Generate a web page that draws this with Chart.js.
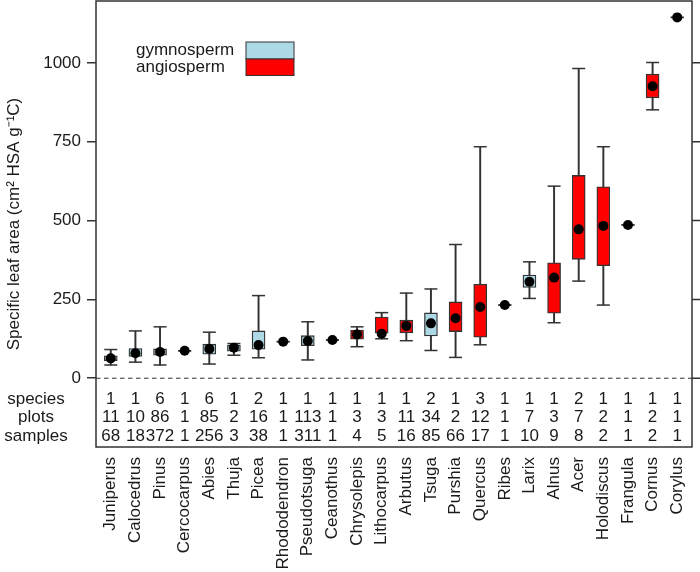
<!DOCTYPE html>
<html>
<head>
<meta charset="utf-8">
<script src="https://cdn.jsdelivr.net/npm/chart.js@4.4.1/dist/chart.umd.min.js"></script>
<style>
  html, body { margin: 0; padding: 0; background: #fff; }
  #wrap { width: 700px; height: 572px; }
</style>
</head>
<body>
<div id="wrap"><canvas id="slaChart"></canvas></div>
<script>
// genera, ordered by mean SLA
const genera = ['Juniperus', 'Calocedrus', 'Pinus', 'Cercocarpus', 'Abies', 'Thuja', 'Picea',
    'Rhododendron', 'Pseudotsuga', 'Ceanothus', 'Chrysolepis', 'Lithocarpus', 'Arbutus', 'Tsuga',
    'Purshia', 'Quercus', 'Ribes', 'Larix', 'Alnus', 'Acer', 'Holodiscus', 'Frangula', 'Cornus', 'Corylus'];
const groups = ['gymnosperm', 'gymnosperm', 'gymnosperm', 'angiosperm', 'gymnosperm', 'gymnosperm', 'gymnosperm',
    'angiosperm', 'gymnosperm', 'angiosperm', 'angiosperm', 'angiosperm', 'angiosperm', 'gymnosperm',
    'angiosperm', 'angiosperm', 'angiosperm', 'gymnosperm', 'angiosperm', 'angiosperm', 'angiosperm', 'angiosperm', 'angiosperm', 'angiosperm'];

// box plot values (cm2 HSA g-1 C)
const whiskerLow  = [42, 51, 42, 87, 45, 73, 65, 116, 58, 121, 100, 125, 119, 88, 66, 106, 232, 253, 176, 308, 232, 486, 851, 1144];
const boxLow      = [56, 69, 73, 87, 76, 86, 92, 116, 103, 121, 124, 143, 144, 134, 148, 130, 232, 288, 206, 377, 357, 486, 889, 1144];
const centre      = [63, 79, 83, 87, 93, 97, 105, 116, 118, 121, 139, 141, 166, 174, 190, 226, 232, 306, 319, 472, 483, 486, 926, 1144];
const boxHigh     = [71, 94, 93, 87, 108, 105, 150, 116, 135, 121, 153, 194, 184, 207, 242, 298, 232, 327, 366, 643, 607, 486, 964, 1144];
const whiskerHigh = [91, 150, 163, 87, 146, 110, 262, 116, 179, 121, 163, 208, 270, 283, 424, 734, 232, 369, 609, 982, 734, 486, 1001, 1144];

// counts table under the zero line
const speciesN = [1, 1, 6, 1, 6, 1, 2, 1, 1, 1, 1, 1, 1, 2, 1, 3, 1, 1, 1, 2, 1, 1, 1, 1];
const plotsN   = [11, 10, 86, 1, 85, 2, 16, 1, 113, 1, 3, 3, 11, 34, 2, 12, 1, 7, 3, 7, 2, 1, 2, 1];
const samplesN = [68, 18, 372, 1, 256, 3, 38, 1, 311, 1, 4, 5, 16, 85, 66, 17, 1, 10, 9, 8, 2, 1, 2, 1];

const yTicks = [0, 250, 500, 750, 1000];

const FONT = "'Liberation Sans', Arial, Helvetica, sans-serif";
const INK = '#1a1a1a';
const LINE = '#333333';
const groupColors = { gymnosperm: '#add8e6', angiosperm: '#ff0000' };

const tableRows = [
    { label: 'species', values: speciesN, dy: 21 },
    { label: 'plots', values: plotsN, dy: 39.5 },
    { label: 'samples', values: samplesN, dy: 58 }
];

const extrasPlugin = {
    id: 'extras',
    beforeDatasetsDraw(chart) {
        const { ctx, chartArea, scales } = chart;
        const y0 = scales.y.getPixelForValue(0);
        ctx.save();
        ctx.strokeStyle = LINE;
        ctx.lineWidth = 1.2;
        ctx.setLineDash([4.5, 3.5]);
        ctx.beginPath();
        ctx.moveTo(chartArea.left, y0);
        ctx.lineTo(chartArea.right, y0);
        ctx.stroke();
        ctx.restore();
    },
    afterDraw(chart) {
        const { ctx, chartArea, scales } = chart;
        const x = scales.x, y = scales.y;
        ctx.save();

        // frame + right-hand ticks
        ctx.strokeStyle = LINE;
        ctx.lineWidth = 1.5;
        ctx.strokeRect(chartArea.left, chartArea.top, chartArea.right - chartArea.left, chartArea.bottom - chartArea.top);
        ctx.beginPath();
        yTicks.forEach(v => {
            const py = y.getPixelForValue(v);
            ctx.moveTo(chartArea.right, py);
            ctx.lineTo(chartArea.right + 9, py);
        });
        ctx.stroke();

        // counts table
        const y0 = y.getPixelForValue(0);
        ctx.fillStyle = INK;
        ctx.font = '17px ' + FONT;
        ctx.textAlign = 'center';
        ctx.textBaseline = 'middle';
        tableRows.forEach(row => {
            row.values.forEach((v, i) => {
                ctx.fillText(String(v), x.getPixelForValue(i), y0 + row.dy);
            });
            ctx.fillText(row.label, 36, y0 + row.dy);
        });

        // legend
        ctx.textAlign = 'left';
        ctx.fillText('gymnosperm', 136, 50);
        ctx.fillText('angiosperm', 136, 67);
        ctx.lineWidth = 1;
        ctx.fillStyle = groupColors.gymnosperm;
        ctx.fillRect(246, 42, 48, 17);
        ctx.strokeRect(246, 42, 48, 17);
        ctx.fillStyle = groupColors.angiosperm;
        ctx.fillRect(246, 59, 48, 16.5);
        ctx.strokeRect(246, 59, 48, 16.5);

        ctx.restore();
    }
};

const pts = arr => arr.map((v, i) => ({ x: i, y: v }));
const ranges = (lo, hi) => lo.map((v, i) => ({ x: i, y: [v, hi[i]] }));

new Chart(document.getElementById('slaChart'), {
    type: 'bar',
    data: {
        datasets: [
            {
                type: 'scatter',
                label: 'centre',
                data: pts(centre),
                pointRadius: 5,
                pointBackgroundColor: '#000',
                pointBorderWidth: 0,
                order: 0
            },
            {
                type: 'scatter',
                label: 'caps',
                data: pts(whiskerLow).concat(pts(whiskerHigh)),
                pointStyle: 'line',
                pointRadius: 6.5,
                pointBorderWidth: 1.5,
                pointBorderColor: LINE,
                order: 1
            },
            {
                label: 'box',
                data: ranges(boxLow, boxHigh),
                backgroundColor: groups.map(g => groupColors[g]),
                borderColor: LINE,
                borderWidth: 1.3,
                borderSkipped: false,
                barThickness: 13,
                grouped: false,
                order: 2
            },
            {
                label: 'whisker',
                data: ranges(whiskerLow, whiskerHigh),
                backgroundColor: LINE,
                borderWidth: 0,
                barThickness: 1.3,
                grouped: false,
                order: 3
            }
        ]
    },
    options: {
        responsive: true,
        maintainAspectRatio: false,
        animation: false,
        layout: { autoPadding: false, padding: { top: 1, right: 8, bottom: 0, left: 0 } },
        plugins: {
            legend: { display: false },
            tooltip: { enabled: false }
        },
        scales: {
            x: {
                type: 'linear',
                min: -0.6,
                max: 23.6,
                offset: false,
                afterBuildTicks: s => { s.ticks = genera.map((g, i) => ({ value: i })); },
                afterFit: s => { s.height = 125; s.paddingLeft = 0; s.paddingRight = 0; },
                grid: { display: false, drawTicks: false },
                border: { display: false },
                ticks: {
                    autoSkip: false,
                    minRotation: 90,
                    maxRotation: 90,
                    padding: 10,
                    color: INK,
                    font: { family: FONT, size: 17 },
                    callback: v => genera[v]
                }
            },
            y: {
                min: -218,
                max: 1196,
                afterBuildTicks: s => { s.ticks = yTicks.map(v => ({ value: v })); },
                afterFit: s => { s.width = 96; s.paddingTop = 0; s.paddingBottom = 0; },
                grid: { drawOnChartArea: false, drawTicks: true, tickLength: 9, color: LINE, lineWidth: 1.5 },
                border: { display: false },
                ticks: {
                    padding: 6,
                    color: INK,
                    font: { family: FONT, size: 17 },
                    callback: v => String(v)
                },
                title: {
                    display: true,
                    text: 'Specific leaf area (cm² HSA g⁻¹C)',
                    color: INK,
                    font: { family: FONT, size: 17 },
                    padding: { top: 4, bottom: 4 }
                }
            }
        }
    },
    plugins: [extrasPlugin]
});
</script>
</body>
</html>
